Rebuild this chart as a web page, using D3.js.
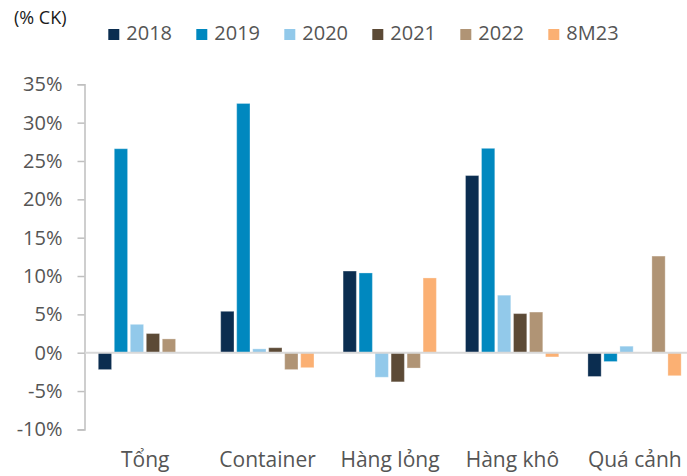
<!DOCTYPE html>
<html>
<head>
<meta charset="utf-8">
<script src="https://cdn.jsdelivr.net/npm/d3@7"></script>
<style>
  html, body { margin: 0; padding: 0; background: #fff; }
  svg text { font-family: "Open Sans", "Noto Sans", sans-serif; }
</style>
</head>
<body>
<svg id="chart" width="687" height="476"></svg>
<script>
const categories = ["Tổng", "Container", "Hàng lỏng", "Hàng khô", "Quá cảnh"];
const seriesNames = ["2018", "2019", "2020", "2021", "2022", "8M23"];
const seriesColors = ["#0b2d50", "#0088bf", "#92c9ea", "#5c4a36", "#b09475", "#fbb073"];
const v2018 = [-2.2, 5.4, 10.65, 23.1, -3.1];
const v2019 = [26.6, 32.5, 10.4, 26.65, -1.15];
const v2020 = [3.7, 0.5, -3.2, 7.5, 0.85];
const v2021 = [2.5, 0.65, -3.8, 5.1, null];
const v2022 = [1.8, -2.2, -2.0, 5.3, 12.6];
const v8M23 = [null, -1.95, 9.75, -0.55, -3.0];
const seriesValues = [v2018, v2019, v2020, v2021, v2022, v8M23];
const yTicks = [-10, -5, 0, 5, 10, 15, 20, 25, 30, 35];

const svg = d3.select("#chart");

const y = d3.scaleLinear().domain([-10, 35]).range([429.4, 84.3]);
const x0 = d3.scaleBand().domain(categories).range([84, 696]);
const x1 = d3.scaleBand().domain(seriesNames).range([12.94, 108.94]).paddingInner(0.17).paddingOuter(0.085);
const color = d3.scaleOrdinal().domain(seriesNames).range(seriesColors);

// y axis
const yAxis = d3.axisLeft(y).tickValues(yTicks).tickSize(7).tickPadding(15).tickFormat(d => d + "%");
const gy = svg.append("g").attr("transform", "translate(84.5,0)").call(yAxis);
gy.select(".domain").attr("stroke", "#bfbfbf").attr("stroke-width", 1.5);
gy.selectAll(".tick line").attr("stroke", "#bfbfbf").attr("stroke-width", 1.5);
gy.selectAll(".tick text").attr("fill", "#555555").style("font-size", "20px")
  .attr("font-family", "Open Sans");

// bars
const data = [];
categories.forEach((c, i) => {
  seriesNames.forEach((s, j) => {
    const v = seriesValues[j][i];
    if (v !== null) data.push({ cat: c, series: s, value: v });
  });
});

svg.append("g").selectAll("rect").data(data).join("rect")
  .attr("x", d => x0(d.cat) + x1(d.series))
  .attr("width", x1.bandwidth())
  .attr("y", d => y(Math.max(0, d.value)))
  .attr("height", d => Math.abs(y(d.value) - y(0)))
  .attr("fill", d => color(d.series))
  .attr("stroke", "rgba(255,255,255,0.3)")
  .attr("stroke-width", 1);

// zero line
svg.append("line")
  .attr("x1", 85).attr("x2", 687)
  .attr("y1", y(0)).attr("y2", y(0))
  .attr("stroke", "#d9d9d9").attr("stroke-width", 2);

// category labels
svg.append("g").selectAll("text").data(categories).join("text")
  .attr("x", d => x0(d) + x0.bandwidth() / 2)
  .attr("y", 467)
  .attr("text-anchor", "middle")
  .attr("fill", "#555555")
  .style("font-size", "21px")
  .text(d => d);

// unit label
svg.append("text").attr("x", 14).attr("y", 24).attr("fill", "#1a1a1a")
  .style("font-size", "18px").text("(% CK)");

// legend
const legend = svg.append("g").selectAll("g").data(seriesNames).join("g")
  .attr("transform", (d, i) => `translate(${108.3 + i * 88}, 0)`);
legend.append("rect").attr("x", 0).attr("y", 29).attr("width", 11).attr("height", 11)
  .attr("fill", d => color(d));
legend.append("text").attr("x", 18).attr("y", 39.5).attr("fill", "#555555")
  .style("font-size", "20px").text(d => d);
</script>
</body>
</html>
